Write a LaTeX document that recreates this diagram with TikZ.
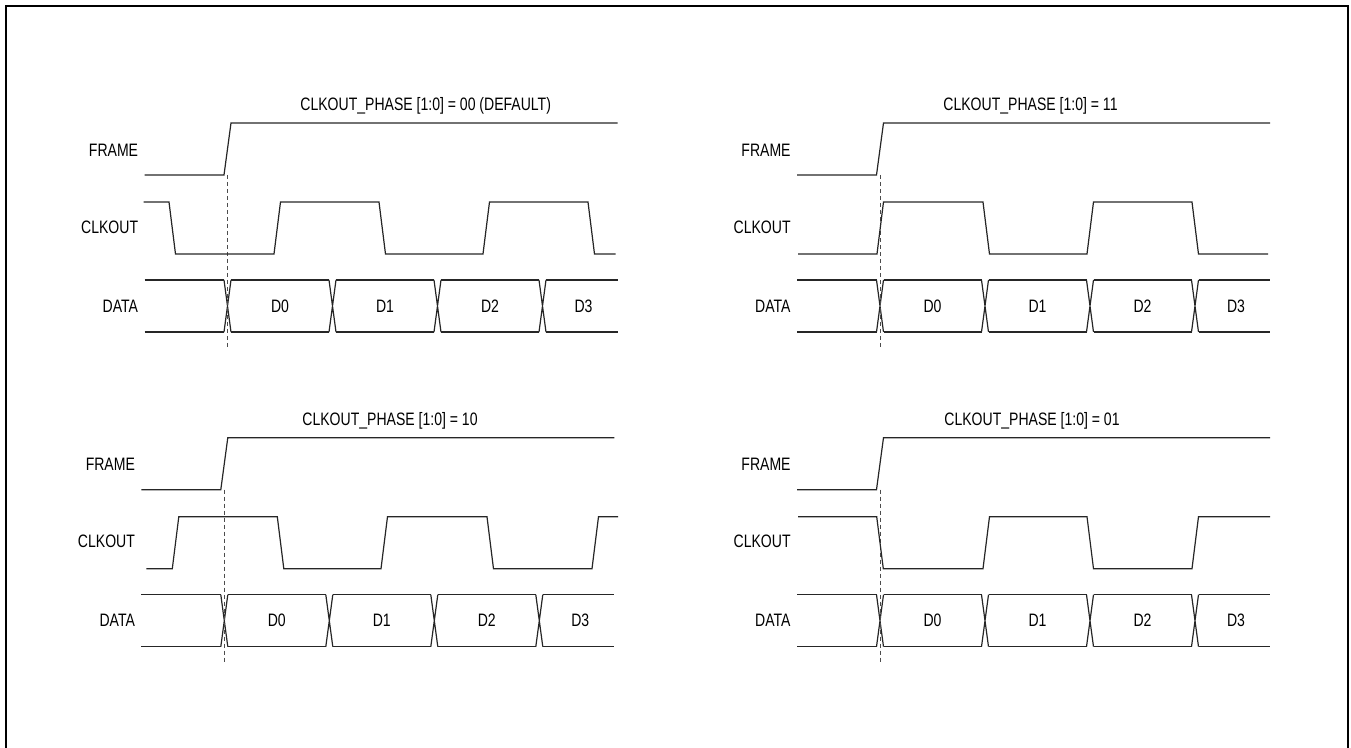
\documentclass[tikz,border=0pt]{standalone}
\usepackage{fontspec}
\setmainfont{Liberation Sans}[FakeStretch=0.78]
\begin{document}
\begin{tikzpicture}[x=0.5pt, y=-0.5pt,
    wave/.style={line width=0.6pt, black!85, line join=miter},
    sig/.style={anchor=east, inner sep=0pt, font=\fontsize{9}{11}\selectfont},
    bit/.style={inner sep=0pt, font=\fontsize{9}{11}\selectfont},
    phase/.style={anchor=base west, inner sep=0pt, font=\fontsize{9}{11}\selectfont},
    marker/.style={dash pattern=on 2pt off 1.5pt, line width=0.4pt, black!70}]
\useasboundingbox (0,0) rectangle (1351,748);

% Outer frame (open at the bottom)
\draw[line width=1pt] (6,748) -- (6,6) -- (1348,6) -- (1348,748);

% Parts shared by the four panels
\foreach \px/\py/\tx/\val in {227.5/123/72.5/00 (DEFAULT), 880/123/63/11,
                              224.3/437.7/77.7/10, 880/437.7/64/01} {
  \begin{scope}[shift={(\px,\py)}]
    \node[phase] (title) at (\tx,-12.5) {CLKOUT\_PHASE [1:0] = \val};
    \node[sig] (lframe) at (-89,27) {FRAME};
    \node[sig] (lclk) at (-89,104) {CLKOUT};
    \node[sig] (ldata) at (-89,183) {DATA};
    % FRAME
    \draw[wave] (-83,52) -- (-3.5,52) -- (3.5,0) -- (390,0);
    % DATA bus
    \foreach \a/\b in {-83/-3.5, 3.5/101.5, 108.5/206.5, 213.5/311.5, 318.5/390}
      \draw[wave] (\a,157) -- (\b,157) (\a,209) -- (\b,209);
    \foreach \c in {0,105,210,315}
      \draw[wave] (\c-3.5,157) -- (\c+3.5,209) (\c-3.5,209) -- (\c+3.5,157);
    \foreach \n/\m in {0/52.5, 1/157.5, 2/262.5, 3/356}
      \node[bit] (d\n) at (\m,183) {D\n};
    % frame edge marker
    \draw[marker] (0,52) -- (0,224);
  \end{scope}
}

% CLKOUT, phase 00
\begin{scope}[shift={(227.5,123)}]
  \draw[wave] (-84,79) -- (-58.5,79) -- (-52,131) -- (46.5,131) -- (53,79)
    -- (151.5,79) -- (158,131) -- (255.5,131) -- (262,79) -- (360.5,79)
    -- (367,131) -- (388,131);
\end{scope}

% CLKOUT, phase 11
\begin{scope}[shift={(880,123)}]
  \draw[wave] (-82,131) -- (-3,131) -- (3.5,79) -- (103,79) -- (109.5,131)
    -- (207,131) -- (213.5,79) -- (312,79) -- (318.5,131) -- (388,131);
\end{scope}

% CLKOUT, phase 10
\begin{scope}[shift={(224.3,437.7)}]
  \draw[wave] (-78,131) -- (-52,131) -- (-45.5,79) -- (53,79) -- (59.5,131)
    -- (156.7,131) -- (163.2,79) -- (262.7,79) -- (269.2,131) -- (367.7,131)
    -- (374.2,79) -- (393.7,79);
\end{scope}

% CLKOUT, phase 01
\begin{scope}[shift={(880,437.7)}]
  \draw[wave] (-82,79) -- (-3.3,79) -- (3.3,131) -- (103,131) -- (109.5,79)
    -- (207,79) -- (213.5,131) -- (312,131) -- (318.5,79) -- (390,79);
\end{scope}
\end{tikzpicture}
\end{document}
